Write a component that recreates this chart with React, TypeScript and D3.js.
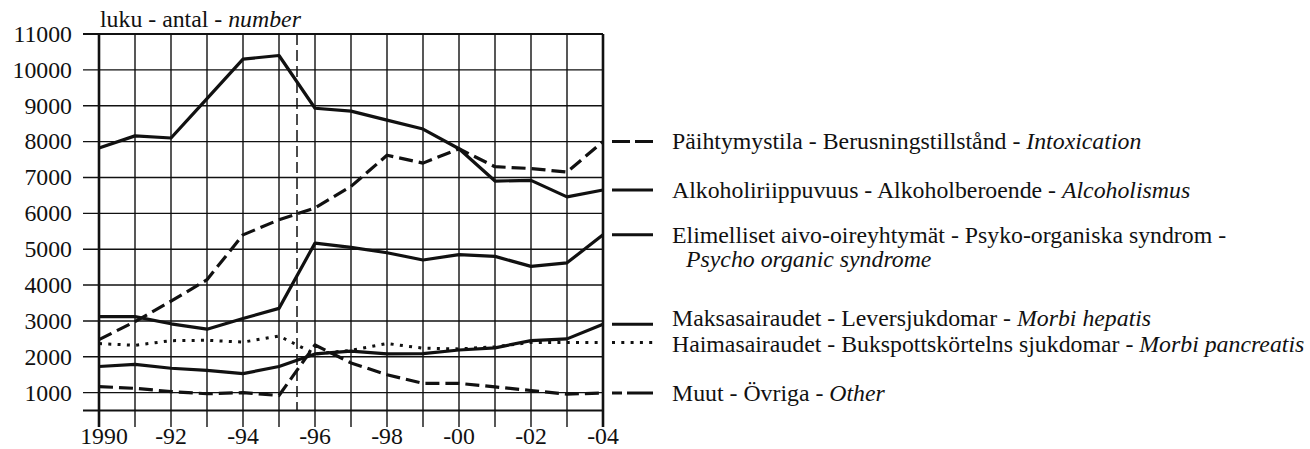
import { useEffect, useRef } from 'react';
import * as d3 from 'd3';

const years = [1990, 1991, 1992, 1993, 1994, 1995, 1996, 1997, 1998, 1999, 2000, 2001, 2002, 2003, 2004];
const yearLabels = ['1990', '-92', '-94', '-96', '-98', '-00', '-02', '-04'];
const yTicks = [1000, 2000, 3000, 4000, 5000, 6000, 7000, 8000, 9000, 10000, 11000];

const intoxication = [2480, 2980, 3550, 4150, 5400, 5820, 6150, 6750, 7620, 7400, 7800, 7300, 7250, 7150, 8000];
const alcoholism = [7820, 8160, 8100, 9200, 10300, 10400, 8930, 8850, 8600, 8350, 7800, 6900, 6920, 6460, 6650];
const organic = [3120, 3120, 2920, 2770, 3070, 3350, 5170, 5050, 4900, 4700, 4850, 4800, 4520, 4620, 5400];
const liver = [1730, 1790, 1680, 1620, 1530, 1730, 2080, 2160, 2080, 2090, 2190, 2250, 2450, 2500, 2910];
const pancreas = [2370, 2320, 2450, 2460, 2410, 2580, 2080, 2180, 2370, 2240, 2220, 2280, 2400, 2400, 2400];
const other = [1170, 1120, 1030, 970, 1000, 920, 2330, 1830, 1500, 1260, 1260, 1160, 1060, 960, 990];

const seriesNames = [
  ['Päihtymystila - Berusningstillstånd - ', 'Intoxication'],
  ['Alkoholiriippuvuus - Alkoholberoende - ', 'Alcoholismus'],
  ['Elimelliset aivo-oireyhtymät - Psyko-organiska syndrom -', 'Psycho organic syndrome'],
  ['Maksasairaudet - Leversjukdomar - ', 'Morbi hepatis'],
  ['Haimasairaudet - Bukspottskörtelns sjukdomar - ', 'Morbi pancreatis'],
  ['Muut - Övriga - ', 'Other'],
];

const FONT = "'Liberation Serif', 'Times New Roman', Times, 'DejaVu Serif', serif";

export default function App() {
  const svgRef = useRef<SVGSVGElement>(null);

  useEffect(() => {
    if (!svgRef.current) return;
    const svg = d3.select(svgRef.current);
    svg.selectAll('*').remove();

    const x = d3.scaleLinear().domain([1990, 2004]).range([99, 603]);
    const y = d3.scaleLinear().domain([500, 11000]).range([410.6, 34]);
    const ink = '#111';
    const fs = 23.8;

    const root = svg.append('g').attr('font-family', FONT).attr('font-size', fs).attr('fill', ink);

    const grid = root.append('g');
    // horizontal grid, ticks sticking out to the left
    grid.selectAll('line.h')
      .data([500, ...yTicks])
      .enter().append('line')
      .attr('x1', 83).attr('x2', x(2004))
      .attr('y1', d => y(d)).attr('y2', d => y(d))
      .attr('stroke', ink).attr('stroke-width', d => (d === 500 || d === 11000 ? 2 : 1.4));

    // vertical grid, ticks below the bottom line
    grid.selectAll('line.v')
      .data(years)
      .enter().append('line')
      .attr('x1', d => x(d)).attr('x2', d => x(d))
      .attr('y1', y(11000)).attr('y2', 427)
      .attr('stroke', ink)
      .attr('stroke-width', d => (d === 1990 || d === 2004 ? 2.6 : 1.4));

    // dashed marker between -95 and -96
    grid.append('line')
      .attr('x1', x(1995.5)).attr('x2', x(1995.5))
      .attr('y1', y(11000)).attr('y2', y(500))
      .attr('stroke', ink).attr('stroke-width', 1.5)
      .attr('stroke-dasharray', '11 5');

    root.append('g').selectAll('text')
      .data(yTicks)
      .enter().append('text')
      .attr('x', 72).attr('y', d => y(d)).attr('dy', '0.33em')
      .attr('text-anchor', 'end')
      .text(d => d);

    root.append('g').selectAll('text')
      .data(yearLabels)
      .enter().append('text')
      .attr('x', (_d, i) => x(1990 + i * 2) + (i === 0 ? 5 : 0))
      .attr('y', 444)
      .attr('text-anchor', 'middle')
      .text(d => d);

    const title = root.append('text').attr('x', 100).attr('y', 27);
    title.append('tspan').text('luku - antal - ');
    title.append('tspan').attr('font-style', 'italic').text('number');

    const all = [intoxication, alcoholism, organic, liver, pancreas, other];
    const dashes = ['14 6', null, null, null, '3 6.3', '14 6'];

    const line = d3.line<number>()
      .x((_d, i) => x(years[i]))
      .y(d => y(d));

    all.forEach((vals, k) => {
      root.append('path')
        .datum(vals)
        .attr('fill', 'none')
        .attr('stroke', ink)
        .attr('stroke-width', dashes[k] === '3 6.3' ? 3 : 3.2)
        .attr('stroke-linejoin', 'round')
        .attr('stroke-dasharray', dashes[k])
        .attr('d', line);
    });

    // legend placed at each series' end value
    const textNudge = [0, 0, 0, -6.5, 2, 0];
    const legendDash = ['18 5', null, null, null, '3 6.3', '10 5 30'];
    all.forEach((vals, k) => {
      const ly = y(vals[vals.length - 1]);
      root.append('line')
        .attr('x1', 612).attr('x2', 653)
        .attr('y1', ly).attr('y2', ly)
        .attr('stroke', ink).attr('stroke-width', 3)
        .attr('stroke-dasharray', legendDash[k]);

      const [plain, ital] = seriesNames[k];
      const t = root.append('text')
        .attr('x', 672).attr('y', ly + textNudge[k]).attr('dy', '0.33em');
      if (k === 2) {
        t.text(plain);
        root.append('text')
          .attr('x', 686).attr('y', ly + 24).attr('dy', '0.33em')
          .attr('font-style', 'italic')
          .text(ital);
      } else {
        t.append('tspan').text(plain);
        t.append('tspan').attr('font-style', 'italic').text(ital);
      }
    });
  }, []);

  return (
    <svg
      ref={svgRef}
      width={1310}
      height={449}
      style={{ position: 'absolute', left: 0, top: 0, background: '#fff' }}
    ></svg>
  );
}
